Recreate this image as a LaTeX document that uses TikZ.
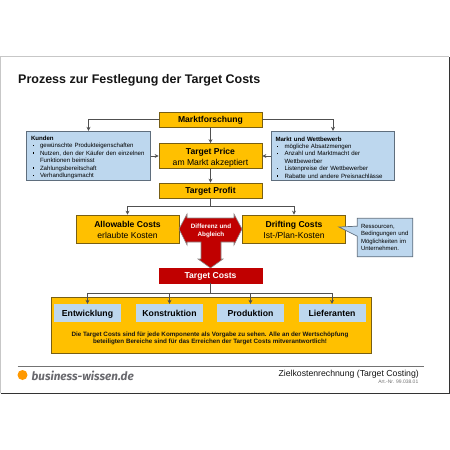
\documentclass[tikz,border=0pt]{standalone}
\usepackage{fontspec}
\setmainfont{Liberation Sans}
\newfontfamily\logofont{Fira Sans}
\usetikzlibrary{arrows.meta,calc,positioning,shapes.callouts}
\definecolor{ink}{RGB}{20,20,20}
\definecolor{boxfill}{RGB}{255,192,0}
\definecolor{boxstroke}{RGB}{120,95,20}
\definecolor{bluefill}{RGB}{189,215,238}
\definecolor{bluestroke}{RGB}{95,110,125}
\definecolor{redfill}{RGB}{192,0,0}
\definecolor{linkgray}{RGB}{80,80,80}
\definecolor{logogray}{RGB}{105,105,110}
\definecolor{logodot}{RGB}{255,153,0}
\def\RowA{119.5}
\def\RowB{156}
\def\RowC{190.5}
\def\RowD{229}
\def\RowE{275.5}
\def\RowF{313}
\newcommand{\itm}[1]{\makebox[9pt][l]{\hspace*{1.5pt}\rule[1.7pt]{1.2pt}{1.2pt}}#1}
\newcommand{\toprl}{\rule{0pt}{7.5pt}}
\newcommand{\costrl}{\rule{0pt}{9pt}}
\tikzset{
  head/.style={
    draw=boxstroke, fill=boxfill, line width=0.7pt,
    minimum height=15pt, minimum width=103pt, text height=6.2pt, text depth=0pt,
    font=\fontsize{8.6}{10}\selectfont\bfseries, inner sep=0pt,
  },
  cost/.style={
    draw=boxstroke, fill=boxfill, line width=0.7pt,
    minimum height=28pt, minimum width=103pt,
    align=center, font=\fontsize{8.6}{11}\selectfont, inner sep=0pt,
  },
  info/.style={
    draw=bluestroke, fill=bluefill, line width=0.8pt,
    minimum height=49.5pt, minimum width=123.5pt, text width=115pt,
    align=left, font=\fontsize{6.1}{7.45}\selectfont, inner sep=0pt,
  },
  dept/.style={
    fill=bluefill, minimum height=18pt, minimum width=67pt, text height=6.2pt, text depth=0pt,
    font=\fontsize{8.7}{10}\selectfont\bfseries, inner sep=0pt,
  },
  arr/.style={-{Stealth[length=4pt,width=4pt]}, line width=0.7pt, draw=linkgray},
}

\begin{document}
\begin{tikzpicture}[x=1pt,y=-1pt]
  \useasboundingbox (0,0) rectangle (450,450);

  % frame
  \draw[line width=0.8pt, draw=black!22] (0.5,393) -- (0.5,56.5) -- (449,56.5);
  \draw[line width=0.9pt, draw=black!80] (0.5,393) -- (449,393) -- (449,56.5);

  \node[anchor=west, inner sep=0pt, font=\fontsize{12.5}{15}\selectfont\bfseries, text=ink] (title) at (18,80) {Prozess zur Festlegung der Target Costs};

  \node[head] (markt) at (210.5,\RowA) {Marktforschung};
  \node[cost, minimum height=25pt] (price) at (210.5,\RowB) {\costrl\textbf{Target Price}\\am Markt akzeptiert};
  \node[head] (profit) at (210.5,\RowC) {Target Profit};

  \node[info] (kunden) at (88.5,\RowB) {\toprl\textbf{Kunden}\\
    \itm{gewünschte Produkteigenschaften}\\
    \itm{Nutzen, den der Käufer den einzelnen}\\
    \hspace*{9pt}Funktionen beimisst\\
    \itm{Zahlungsbereitschaft}\\
    \itm{Verhandlungsmacht}};
  \node[info] (wettb) at (333,\RowB) {\toprl\textbf{Markt und Wettbewerb}\\
    \itm{mögliche Absatzmengen}\\
    \itm{Anzahl und Marktmacht der}\\
    \hspace*{9pt}Wettbewerber\\
    \itm{Listenpreise der Wettbewerber}\\
    \itm{Rabatte und andere Preisnachlässe}};

  \node[cost] (allow) at (127.5,\RowD) {\costrl\textbf{Allowable Costs}\\erlaubte Kosten};
  \node[cost] (drift) at (294,\RowD) {\costrl\textbf{Drifting Costs}\\Ist-/Plan-Kosten};

  \node[rectangle callout, callout absolute pointer={(339,227)}, callout pointer width=10pt, draw=bluestroke, fill=bluefill, line width=0.7pt,
    minimum width=55.5pt, minimum height=38.5pt, text width=48pt, align=left, inner sep=0pt,
    font=\fontsize{6}{7.4}\selectfont] (res) at (385,237.5) {Ressourcen,\\Bedingungen und\\Möglichkeiten im\\Unternehmen.};

  % red double arrow
  \draw[fill=redfill, draw=black!45, line width=0.6pt]
    (179,229) -- (187,214) -- (187,218) -- (234,218) -- (234,214) -- (242,229) -- (234,245) -- (234,242)
    -- (221,242) -- (221,259) -- (223,259) -- (210.5,268) -- (198,259) -- (201,259) -- (201,242)
    -- (187,242) -- (187,245) -- cycle;
  \node[align=center, inner sep=0pt, text=white, font=\fontsize{6.3}{8}\selectfont\bfseries] (diff) at (211,231) {Differenz und\\Abgleich};

  \node[head, fill=redfill, draw=redfill, text=white] (target) at (210.5,\RowE) {Target Costs};

  \node[draw=boxstroke, fill=boxfill, line width=0.7pt, minimum width=320pt, minimum height=56pt, inner sep=0pt] (comp) at (211,325) {};
  \node[dept] (entw) at (87.5,\RowF) {Entwicklung};
  \node[dept] (konst) at (169.5,\RowF) {Konstruktion};
  \node[dept] (prod) at (250.5,\RowF) {Produktion};
  \node[dept] (lief) at (332,\RowF) {Lieferanten};
  \node[align=center, inner sep=0pt, font=\fontsize{6.25}{7.7}\selectfont\bfseries, text=ink] (komp) at (210,338.5) {Die Target Costs sind für jede Komponente als Vorgabe zu sehen. Alle an der Wertschöpfung\\beteiligten Bereiche sind für das Erreichen der Target Costs mitverantwortlich!};

  \draw[arr] (markt.west) -| (kunden.north);
  \draw[arr] (markt.east) -| (wettb.north);
  \draw[arr] (markt) -- (price);
  \draw[arr] (price) -- (profit);
  \draw[arr] (kunden) -- (price);
  \draw[arr] (wettb) -- (price);
  \draw[arr] (profit.south) -- ++(0,8) -| (allow.north);
  \draw[arr] (profit.south) -- ++(0,8) -| (drift.north);
  \foreach \dep in {entw,konst,prod,lief}
    \draw[arr] (target.south) -- ++(0,10) -| (\dep.north);

  % footer
  \coordinate (footl) at (17.5,366);
  \coordinate (footr) at (424,366);
  \draw[line width=0.7pt, draw=black!55] (footl) -- (footr);
  \fill[logodot] (22.5,375) circle (5);
  \node[anchor=west, inner sep=0pt, text=logogray, font=\logofont\fontsize{11.7}{14}\selectfont\bfseries\itshape] (logo) at (31.5,375.5) {business-wissen.de};
  \node[anchor=east, inner sep=0pt, font=\fontsize{8.7}{10}\selectfont, text=ink] (thema) at (419,374) {Zielkostenrechnung (Target Costing)};
  \node[anchor=east, inner sep=0pt, font=\fontsize{5}{6}\selectfont, text=black!55] (artnr) at (418.5,382) {Art.-Nr. 99.038.01};
\end{tikzpicture}
\end{document}
